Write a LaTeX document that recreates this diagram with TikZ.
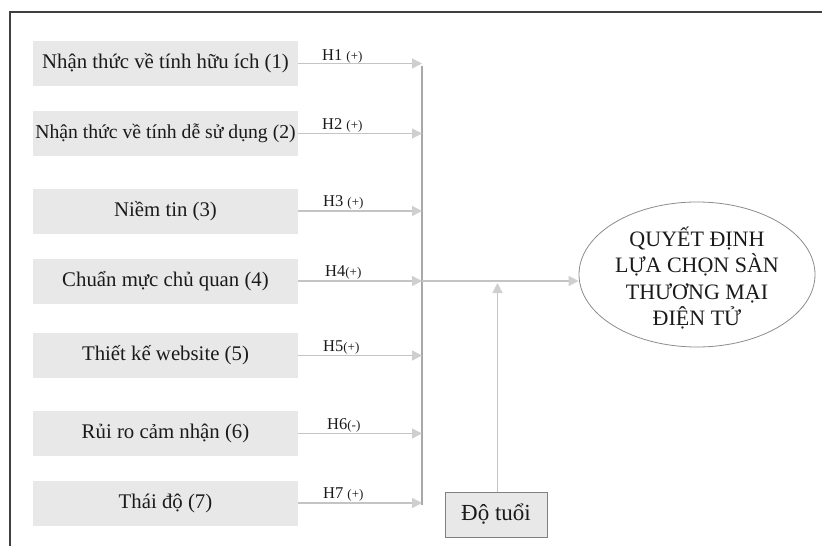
\documentclass[tikz,border=0pt]{standalone}
\usepackage{fontspec}
\setmainfont{Liberation Serif}
\usetikzlibrary{arrows.meta,shapes.geometric,calc}
\definecolor{boxgray}{HTML}{E8E8E8}
\definecolor{linegray}{HTML}{C4C4C4}
\definecolor{tipgray}{HTML}{CFCFCF}
\definecolor{bargray}{HTML}{A8A8A8}
\definecolor{framegray}{HTML}{404040}
\definecolor{txt}{HTML}{1A1A1A}
\tikzset{
  factor/.style={fill=boxgray, minimum width=265pt, minimum height=45pt, inner sep=0pt,
    text=txt, font=\fontsize{20.8}{24}\selectfont},
  conn/.style={draw=linegray, line width=1.4pt,
    -{Triangle[length=10pt,width=10pt,color=tipgray,fill=tipgray]}},
  hlab/.style={anchor=base west, inner sep=0pt, text=txt, font=\fontsize{16.5}{18}\selectfont},
}
\newcommand{\sm}[1]{{\fontsize{13}{14}\selectfont #1}}
\begin{document}
\begin{tikzpicture}[x=1pt,y=-1pt]
\useasboundingbox (0,0) rectangle (822,546);
% frame (top-left corner of a cropped border)
\draw[framegray, line width=2.5pt] (10,546) -- (10,12) -- (822,12);

% factor boxes
\node[factor] (f1) at (165.5,63.5) {Nhận thức về tính hữu ích (1)};
\node[factor, font=\fontsize{19.7}{24}\selectfont] (f2) at (165.5,133.5) {Nhận thức về tính dễ sử dụng (2)};
\node[factor] (f3) at (165.5,211) {Niềm tin (3)};
\node[factor] (f4) at (165.5,281) {Chuẩn mực chủ quan (4)};
\node[factor] (f5) at (165.5,355.5) {Thiết kế website (5)};
\node[factor] (f6) at (165.5,433.5) {Rủi ro cảm nhận (6)};
\node[factor] (f7) at (165.5,503) {Thái độ (7)};

% collecting bar
\coordinate (bartop) at (422,66);
\coordinate (barbot) at (422,505);
\draw[bargray, line width=1.4pt] (bartop) -- (barbot);

% arrows into the bar
\foreach \i in {1,...,7}{
  \draw[conn] (f\i.east) -- (f\i.east -| bartop);
}

% hypothesis labels
\node[hlab] (h1) at (322,60.5) {H1 \sm{(+)}};
\node[hlab] (h2) at (322,129) {H2 \sm{(+)}};
\node[hlab] (h3) at (323,206.5) {H3 \sm{(+)}};
\node[hlab] (h4) at (325,276.5) {H4\sm{(+)}};
\node[hlab] (h5) at (323,351) {H5\sm{(+)}};
\node[hlab] (h6) at (327,429) {H6\sm{(-)}};
\node[hlab] (h7) at (323,498) {H7 \sm{(+)}};

% outcome
\node[ellipse, draw=gray!90, line width=0.8pt, fill=white, minimum width=236pt, minimum height=145pt,
  inner sep=0pt] (goal) at (697,274.5) {};
\node[align=center, inner sep=0pt, text=txt, font=\fontsize{22}{26.3}\selectfont] (goaltext) at (697,278)
  {QUYẾT ĐỊNH\\LỰA CHỌN SÀN\\THƯƠNG MẠI\\ĐIỆN TỬ};

\coordinate (hub) at (f4.east -| bartop);
\draw[conn] (hub) -- (hub -| goal.west);

% moderator
\node[draw=gray, line width=0.8pt, fill=boxgray, minimum width=102pt, minimum height=45pt, inner sep=0pt,
  text=txt, font=\fontsize{23}{26}\selectfont] (age) at (496,514.5) {Độ tuổi};
\draw[conn] ([xshift=1.5pt]age.north) -- ([xshift=1.5pt,yshift=-2pt]age.north |- hub);
\end{tikzpicture}
\end{document}
